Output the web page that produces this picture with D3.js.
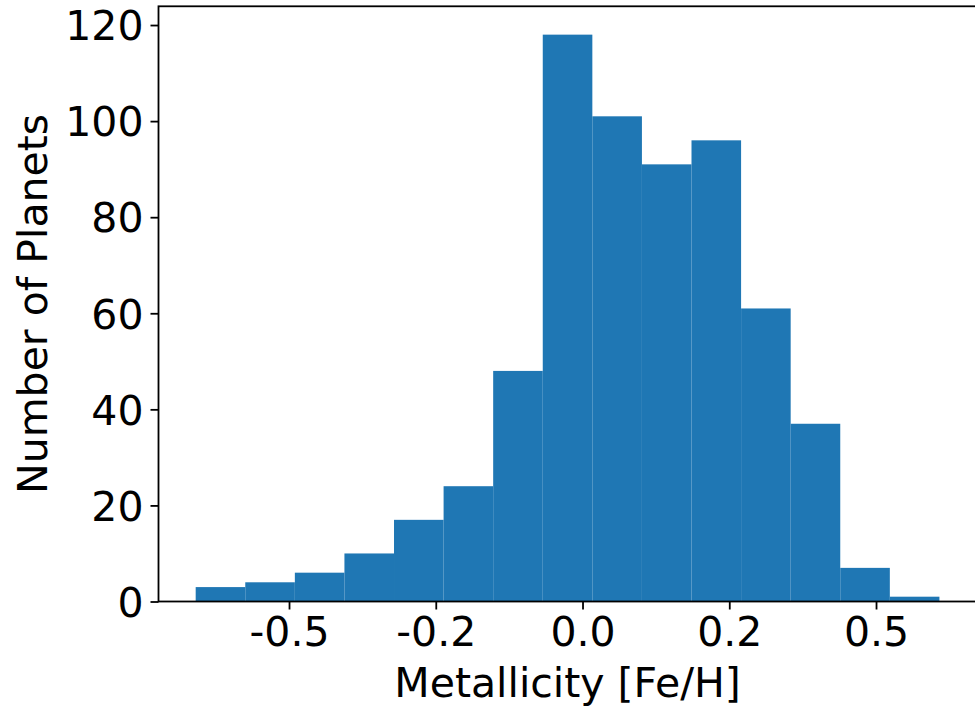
<!DOCTYPE html>
<html>
<head>
<meta charset="utf-8">
<script src="https://cdn.jsdelivr.net/npm/d3@7"></script>
<style>
  html, body { margin: 0; padding: 0; background: #fff; }
  svg { display: block; }
  text { font-family: "DejaVu Sans", sans-serif; fill: #000; }
</style>
</head>
<body>
<svg id="chart" width="975" height="707"></svg>
<script>
// Planet counts per metallicity bin (15 equal-width bins)
const counts = [3, 4, 6, 10, 17, 24, 48, 118, 101, 91, 96, 61, 37, 7, 1];
// Histogram range in [Fe/H]
const binRange = [-0.659, 0.608];
// Axis ticks and their printed labels
const xTicks = [-0.5, -0.25, 0.0, 0.25, 0.5];
const xTickLabels = ["-0.5", "-0.2", "0.0", "0.2", "0.5"];
const yTicks = [0, 20, 40, 60, 80, 100, 120];
const yTickLabels = ["0", "20", "40", "60", "80", "100", "120"];

const binWidth = (binRange[1] - binRange[0]) / counts.length;
const bins = counts.map((c, i) => ({
  x0: binRange[0] + i * binWidth,
  x1: binRange[0] + (i + 1) * binWidth,
  count: c
}));

const svg = d3.select("#chart");
const plot = { left: 158.5, right: 976.6, top: 6.3, bottom: 601.5 };

// 5% padding around the data, as in a default histogram axes
const span = binRange[1] - binRange[0];
const x = d3.scaleLinear()
  .domain([binRange[0] - 0.05 * span, binRange[1] + 0.05 * span])
  .range([plot.left, plot.right]);
const yMax = d3.max(counts) * 1.05;
const y = d3.scaleLinear()
  .domain([0, yMax])
  .range([plot.bottom, plot.top]);

// Bars
svg.append("g")
  .selectAll("rect")
  .data(bins)
  .join("rect")
  .attr("x", d => x(d.x0))
  .attr("width", d => x(d.x1) - x(d.x0))
  .attr("y", d => y(d.count))
  .attr("height", d => y(0) - y(d.count))
  .attr("fill", "#1f77b4");

const fontSize = 41;

// X axis
const xAxis = d3.axisBottom(x)
  .tickValues(xTicks)
  .tickFormat((d, i) => xTickLabels[i])
  .tickSize(8)
  .tickPadding(7);
const gx = svg.append("g")
  .attr("transform", `translate(0,${plot.bottom})`)
  .call(xAxis);
gx.select(".domain").remove();
gx.selectAll(".tick line").attr("stroke", "#000").attr("stroke-width", 1.8);
gx.selectAll(".tick text")
  .attr("font-size", fontSize)
  .attr("font-family", "DejaVu Sans")
  .attr("dy", "0.71em");

// Y axis
const yAxis = d3.axisLeft(y)
  .tickValues(yTicks)
  .tickFormat((d, i) => yTickLabels[i])
  .tickSize(8)
  .tickPadding(7);
const gy = svg.append("g")
  .attr("transform", `translate(${plot.left},0)`)
  .call(yAxis);
gy.select(".domain").remove();
gy.selectAll(".tick line").attr("stroke", "#000").attr("stroke-width", 1.8);
gy.selectAll(".tick text")
  .attr("font-size", fontSize)
  .attr("font-family", "DejaVu Sans")
  .attr("dy", "0.36em");

// Frame (spines)
svg.append("rect")
  .attr("x", plot.left)
  .attr("y", plot.top)
  .attr("width", plot.right - plot.left)
  .attr("height", plot.bottom - plot.top)
  .attr("fill", "none")
  .attr("stroke", "#000")
  .attr("stroke-width", 1.8);

// Axis titles
svg.append("text")
  .attr("x", (plot.left + plot.right) / 2)
  .attr("y", 697)
  .attr("text-anchor", "middle")
  .attr("font-size", fontSize)
  .text("Metallicity [Fe/H]");

svg.append("text")
  .attr("transform", `translate(47,${(plot.top + plot.bottom) / 2}) rotate(-90)`)
  .attr("text-anchor", "middle")
  .attr("font-size", fontSize)
  .text("Number of Planets");
</script>
</body>
</html>
